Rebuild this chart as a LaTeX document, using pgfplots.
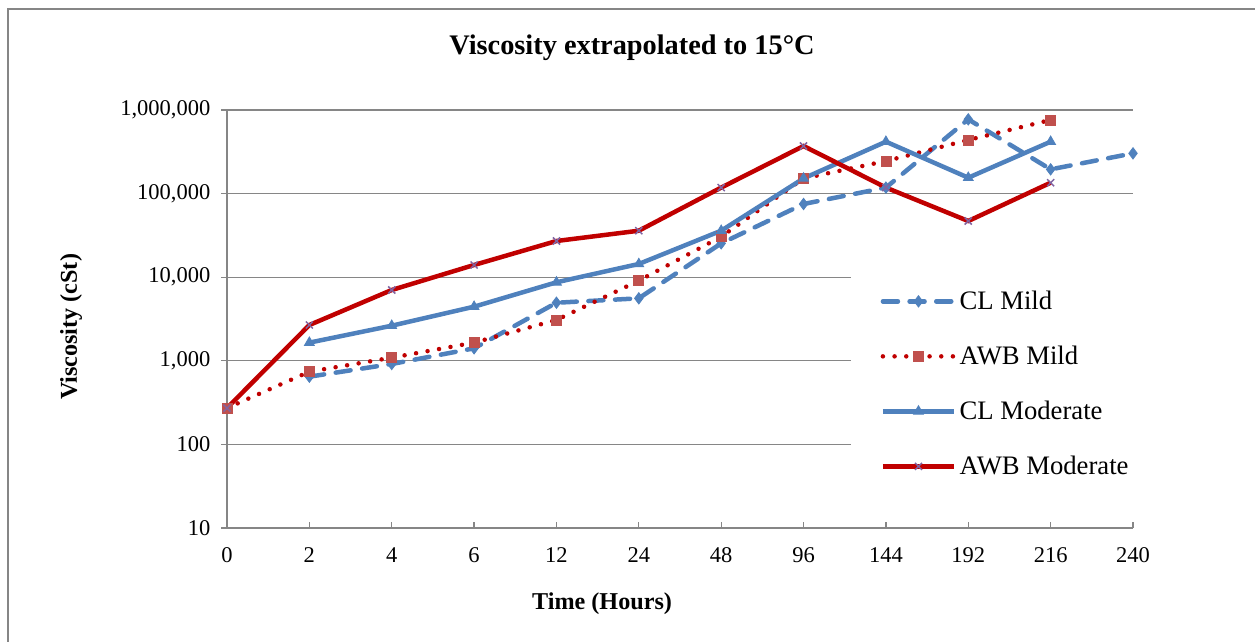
\documentclass[border=0pt]{standalone}
\usepackage{fontspec}
\setmainfont{Liberation Serif}
\usepackage{pgfplots}
\pgfplotsset{compat=1.18}
\definecolor{clblue}{HTML}{4F81BD}
\definecolor{awbred}{HTML}{C00000}
\definecolor{awbmark}{HTML}{C0504D}
\definecolor{xmark}{HTML}{8064A2}
\definecolor{axgray}{HTML}{868686}

\begin{document}
\begin{tikzpicture}[x=0.6pt,y=0.6pt]
\path[use as bounding box] (0,0) rectangle (1255,641);
\draw[axgray, line width=1pt] (8,-10) -- (8,632) -- (1265,632);
\begin{axis}[
    at={(136.2pt,67.8pt)}, anchor=south west,
    scale only axis, width=543.6pt, height=250.8pt,
    ymode=log, ymin=10, ymax=1000000,
    xmin=0, xmax=11, clip=false,
    axis lines=left,
    axis line style={axgray, line width=0.8pt, -},
    xtick={0,1,2,3,4,5,6,7,8,9,10,11},
    xticklabels={0,2,4,6,12,24,48,96,144,192,216,240},
    ytick={10,100,1000,10000,100000,1000000},
    yticklabels={10,100,{1,000},{10,000},{100,000},{1,000,000}},
    minor tick style={draw=none},
    xtick align=inside, ytick align=outside,
    major tick length=3.5pt,
    tick style={axgray, line width=0.8pt},
    ymajorgrids, grid style={axgray, line width=0.7pt},
    ticklabel style={font=\fontsize{13.5}{15}\selectfont},
    /pgf/number format/assume math mode=true,
    xticklabel shift=8pt, yticklabel shift=3pt,
    title={\bfseries Viscosity extrapolated to 15°C},
    title style={font=\fontsize{17}{20}\selectfont, at={(axis description cs:0.447,1.125)}, anchor=center},
    xlabel={\bfseries Time (Hours)},
    xlabel style={font=\fontsize{14.5}{17}\selectfont, at={(axis description cs:0.414,-0.182)}, anchor=center},
    ylabel={\bfseries Viscosity (cSt)},
    ylabel style={font=\fontsize{14.5}{17}\selectfont, at={(axis description cs:-0.172,0.481)}, anchor=center, rotate=0},
    legend style={at={(axis description cs:0.688,0.608)}, anchor=north west, draw=none, fill=white,
        font=\fontsize{16}{19}\selectfont, row sep=16.4pt, inner xsep=18pt, inner ysep=8pt},
    legend cell align=left,
    legend image code/.code={\draw[mark repeat=2,mark phase=2] plot coordinates {(0cm,0cm) (0.75cm,0cm) (1.5cm,0cm)};},
]

\addplot[color=clblue, line width=2.7pt, line cap=round, dash pattern=on 9pt off 7pt,
    mark=diamond*, mark size=3.4pt, mark options={solid, fill=clblue, line width=0.5pt}] coordinates {
    (1,646) (2,916) (3,1410) (4,4950) (5,5590) (6,25400) (7,75100)
    (8,118000) (9,773000) (10,195000) (11,303000)
};
\addlegendentry{CL Mild}

\addplot[color=awbred, line width=2.7pt, line cap=round, dash pattern=on 0pt off 7pt,
    mark=square*, mark size=3pt, mark options={solid, draw=awbmark, fill=awbmark, line width=0.4pt}] coordinates {
    (0,272) (1,741) (2,1090) (3,1650) (4,3080) (5,9090) (6,30500)
    (7,152000) (8,245000) (9,438000) (10,760000)
};
\addlegendentry{AWB Mild}

\addplot[color=clblue, line width=2.7pt,
    mark=triangle*, mark size=3.4pt, mark options={solid, fill=clblue, line width=0.5pt}] coordinates {
    (1,1650) (2,2630) (3,4440) (4,8690) (5,14400) (6,36000)
    (7,152000) (8,418000) (9,155000) (10,418000)
};
\addlegendentry{CL Moderate}

\addplot[color=awbred, line width=2.7pt,
    mark=x, mark size=3pt, mark options={solid, draw=xmark, line width=0.9pt}] coordinates {
    (0,272) (1,2680) (2,7030) (3,14000) (4,27100) (5,36000) (6,118000)
    (7,371000) (8,118000) (9,47000) (10,135000)
};
\addlegendentry{AWB Moderate}

\end{axis}
\end{tikzpicture}
\end{document}
